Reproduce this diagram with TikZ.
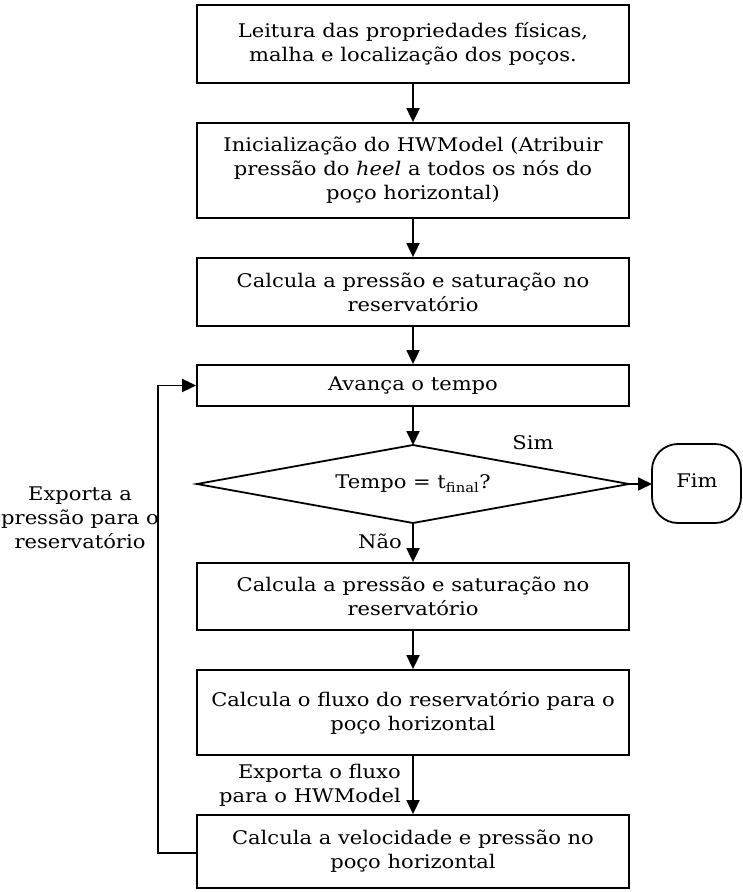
\documentclass[tikz,border=0pt]{standalone}
\usepackage{fontspec}
\setmainfont{DejaVu Serif}[FakeStretch=1.12]
\usetikzlibrary{arrows.meta,shapes.geometric}
\tikzset{
  proc/.style={draw, line width=1.8pt, minimum width=432pt, align=center, inner sep=0pt},
  flow/.style={line width=1.8pt, -{Triangle[length=14pt,width=13pt]}},
  lbl/.style={align=center, inner sep=0pt},
}
\begin{document}
\begin{tikzpicture}[x=1pt,y=-1pt,font=\fontsize{18.8pt}{24pt}\selectfont]
\useasboundingbox (0,0) rectangle (742,892);
\node[proc, minimum height=78pt] (b1) at (413,44) {Leitura das propriedades físicas,\\malha e localização dos poços.};
\node[proc, minimum height=95pt] (b2) at (413,170.5) {Inicialização do HWModel (Atribuir\\pressão do \textit{heel} a todos os nós do\\poço horizontal)};
\node[proc, minimum height=68pt] (b3) at (413,292) {Calcula a pressão e saturação no\\reservatório};
\node[proc, minimum height=41pt] (b4) at (413,385.5) {Avança o tempo};
\draw[line width=1.8pt] (197,484) coordinate (dl) -- (413,445) coordinate (dt) -- (629,484) coordinate (dr) -- (413,523) coordinate (db) -- cycle;
\node[lbl] (dtext) at (413,484) {Tempo = t\textsubscript{final}?};
\draw[line width=1.8pt, rounded corners=26pt] (697,444) -- (741,444) -- (741,523) -- (652,523) -- (652,444) -- (697,444);
\node[lbl] (fim) at (697,481) {Fim};
\coordinate (fimw) at (652,484);
\node[proc, minimum height=67pt] (b5) at (413,596.5) {Calcula a pressão e saturação no\\reservatório};
\node[proc, minimum height=85pt] (b6) at (413,712.5) {Calcula o fluxo do reservatório para o\\poço horizontal};
\node[proc, minimum height=73pt] (b7) at (413,851.5) {Calcula a velocidade e pressão no\\poço horizontal};
\draw[flow] (b1) -- (b2);
\draw[flow] (b2) -- (b3);
\draw[flow] (b3) -- (b4);
\draw[flow] (b4) -- (dt);
\draw[flow] (dr) -- (fimw);
\draw[flow] (db) -- (b5);
\draw[flow] (b5) -- (b6);
\draw[flow] (b6) -- (b7);
\coordinate (lb) at (158,853);
\coordinate (lt) at (158,385.5);
\draw[flow] (b7.west |- lb) -- (lb) -- (lt) -- (b4.west);
\node[lbl] (sim) at (533,443) {Sim};
\node[lbl] (nao) at (380,541) {Não};
\node[lbl] (exp) at (80,518) {Exporta a\\pressão para o\\reservatório};
\node[lbl, align=right, anchor=east] (expf) at (401,785) {Exporta o fluxo\\para o HWModel};
\end{tikzpicture}
\end{document}
